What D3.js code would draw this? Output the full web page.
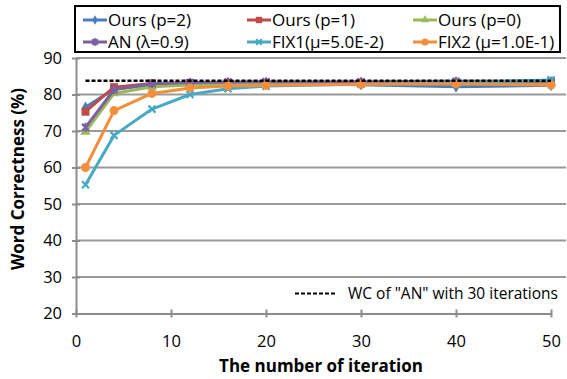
<!doctype html>
<html>
  <head>
    <script src="https://cdn.jsdelivr.net/npm/d3@7"></script>
    <style>
      body { margin: 0; background: #fff; }
      text { font-family: "Open Sans", "Liberation Sans", sans-serif; }
    </style>
  </head>
  <body>
    <script>
      // iterations on the x axis
      var iterations = [1, 4, 8, 12, 16, 20, 30, 40, 50];

      // word correctness (%) per series
      var ours_p2 = [76.5, 81.5, 82.6, 82.9, 83.0, 83.0, 82.7, 82.1, 82.5];
      var ours_p1 = [75.3, 82.0, 83.0, 83.1, 83.2, 83.2, 83.2, 83.2, 83.3];
      var ours_p0 = [69.8, 80.3, 82.1, 82.6, 82.8, 82.9, 83.0, 83.0, 83.1];
      var an_09   = [71.0, 81.3, 83.0, 83.3, 83.4, 83.5, 83.5, 83.6, 83.6];
      var fix1    = [55.3, 68.8, 76.0, 80.0, 81.6, 82.3, 82.8, 83.2, 84.0];
      var fix2    = [60.0, 75.6, 80.3, 81.8, 82.3, 82.5, 82.8, 82.9, 82.6];
      var wc_an30 = 83.8;

      var series_names = ["Ours (p=2)", "Ours (p=1)", "Ours (p=0)",
                          "AN (\u03bb=0.9)", "FIX1(\u03bc=5.0E-2)", "FIX2 (\u03bc=1.0E-1)"];
      var series_values = [ours_p2, ours_p1, ours_p0, an_09, fix1, fix2];
      var series_colors = ["#4a7ebb", "#be4b48", "#98b954", "#7d60a0", "#46aac5", "#f28e3c"];
      var series_marks  = ["diamond", "square", "triangle", "star", "cross", "circle"];

      var x_ticks = [0, 10, 20, 30, 40, 50];
      var y_ticks = [20, 30, 40, 50, 60, 70, 80, 90];

      var w_svg = 567, h_svg = 379;
      var svg = d3.select("body").append("svg")
                  .attr("width", w_svg).attr("height", h_svg);

      var x = d3.scaleLinear().domain([0, 50]).range([76, 551]);
      var y = d3.scaleLinear().domain([20, 90]).range([313.5, 58]);

      // gridlines
      svg.selectAll("line.grid").data(y_ticks.slice(1)).enter()
         .append("line")
         .attr("x1", 76).attr("x2", 566)
         .attr("y1", function(d){ return y(d); })
         .attr("y2", function(d){ return y(d); })
         .attr("stroke", "#9a9a9a").attr("stroke-width", 2);

      // axes
      var yAxis = d3.axisLeft(y).tickValues(y_ticks).tickSizeInner(4).tickSizeOuter(0).tickPadding(10);
      var gy = svg.append("g").attr("transform", "translate(76,0)").call(yAxis);
      var xAxis = d3.axisBottom(x).tickValues(x_ticks).tickSizeInner(4).tickSizeOuter(0).tickPadding(18);
      var gx = svg.append("g").attr("transform", "translate(0," + y(20) + ")").call(xAxis);
      [gx, gy].forEach(function(g){
        g.select(".domain").attr("stroke", "#8c8c8c").attr("stroke-width", 2);
        g.selectAll(".tick line").attr("stroke", "#8c8c8c").attr("stroke-width", 2);
        g.selectAll(".tick text").attr("font-size", 16.5).attr("fill", "#000")
         .style("font-family", "'Open Sans', sans-serif");
      });
      gy.selectAll(".tick line").attr("x2", -4).attr("x1", 4);
      gx.selectAll(".tick line").attr("y1", -4).attr("y2", 4);

      // axis titles
      svg.append("text").attr("x", 321).attr("y", 372)
         .attr("text-anchor", "middle").attr("font-size", 17).attr("font-weight", "bold")
         .text("The number of iteration");
      svg.append("text").attr("transform", "translate(24,179) rotate(-90)")
         .attr("text-anchor", "middle").attr("font-size", 17).attr("font-weight", "bold")
         .text("Word Correctness (%)");

      function marker(g, kind, color, k) {
        k = k || 1;
        if (kind === "diamond") {
          g.append("path").attr("d", d3.symbol(d3.symbolDiamond, 40 * k * k)()).attr("fill", color);
        } else if (kind === "square") {
          g.append("rect").attr("x", -4 * k).attr("y", -4 * k).attr("width", 8 * k).attr("height", 8 * k).attr("fill", color);
        } else if (kind === "triangle") {
          g.append("path").attr("d", d3.symbol(d3.symbolTriangle, 45 * k * k)()).attr("fill", color);
        } else if (kind === "circle") {
          g.append("circle").attr("r", 4.5 * k).attr("fill", color);
        } else if (kind === "cross") {
          var a = 3.5 * k;
          g.append("path").attr("d", "M" + -a + "," + -a + "L" + a + "," + a + "M" + -a + "," + a + "L" + a + "," + -a)
           .attr("stroke", color).attr("stroke-width", 2.2).attr("fill", "none");
        } else if (kind === "star") {
          var b = 3.5 * k;
          g.append("path").attr("d", "M" + -b + "," + -b + "L" + b + "," + b + "M" + -b + "," + b + "L" + b + "," + -b +
                                     "M0," + (-b - 1) + "L0," + (b + 1))
           .attr("stroke", color).attr("stroke-width", 2.2).attr("fill", "none");
        }
      }

      var line = d3.line()
                   .x(function(d, i){ return x(iterations[i]); })
                   .y(function(d){ return y(d); });

      series_values.forEach(function(vals, s){
        svg.append("path").datum(vals)
           .attr("d", line)
           .attr("fill", "none")
           .attr("stroke", series_colors[s])
           .attr("stroke-width", 3)
           .attr("stroke-linejoin", "round");
        vals.forEach(function(v, i){
          var g = svg.append("g").attr("transform", "translate(" + x(iterations[i]) + "," + y(v) + ")");
          marker(g, series_marks[s], series_colors[s]);
        });
      });

      // reference line: WC of AN with 30 iterations
      svg.append("line")
         .attr("x1", x(1)).attr("x2", x(50))
         .attr("y1", y(wc_an30)).attr("y2", y(wc_an30))
         .attr("stroke", "#000").attr("stroke-width", 2.5).attr("stroke-dasharray", "4,2");

      svg.append("line").attr("x1", 295).attr("x2", 337).attr("y1", 293.5).attr("y2", 293.5)
         .attr("stroke", "#000").attr("stroke-width", 2).attr("stroke-dasharray", "4,2");
      svg.append("text").attr("x", 348).attr("y", 299).attr("font-size", 15.5)
         .text("WC of \"AN\" with 30 iterations");

      // top legend
      var legend = svg.append("g");
      legend.append("rect").attr("x", 75).attr("y", 6).attr("width", 485).attr("height", 46)
            .attr("fill", "#fff").attr("stroke", "#000").attr("stroke-width", 2);
      var col_x = [83, 247, 413];
      var row_y = [20, 42];
      series_names.forEach(function(name, s){
        var lx = col_x[s % 3], ly = row_y[Math.floor(s / 3)];
        legend.append("line").attr("x1", lx).attr("x2", lx + 24).attr("y1", ly).attr("y2", ly)
              .attr("stroke", series_colors[s]).attr("stroke-width", 3);
        var g = legend.append("g").attr("transform", "translate(" + (lx + 12) + "," + ly + ")");
        marker(g, series_marks[s], series_colors[s], 0.8);
        legend.append("text").attr("x", lx + 25).attr("y", ly + 6).attr("font-size", 17)
              .text(name);
      });
    </script>
  </body>
</html>
